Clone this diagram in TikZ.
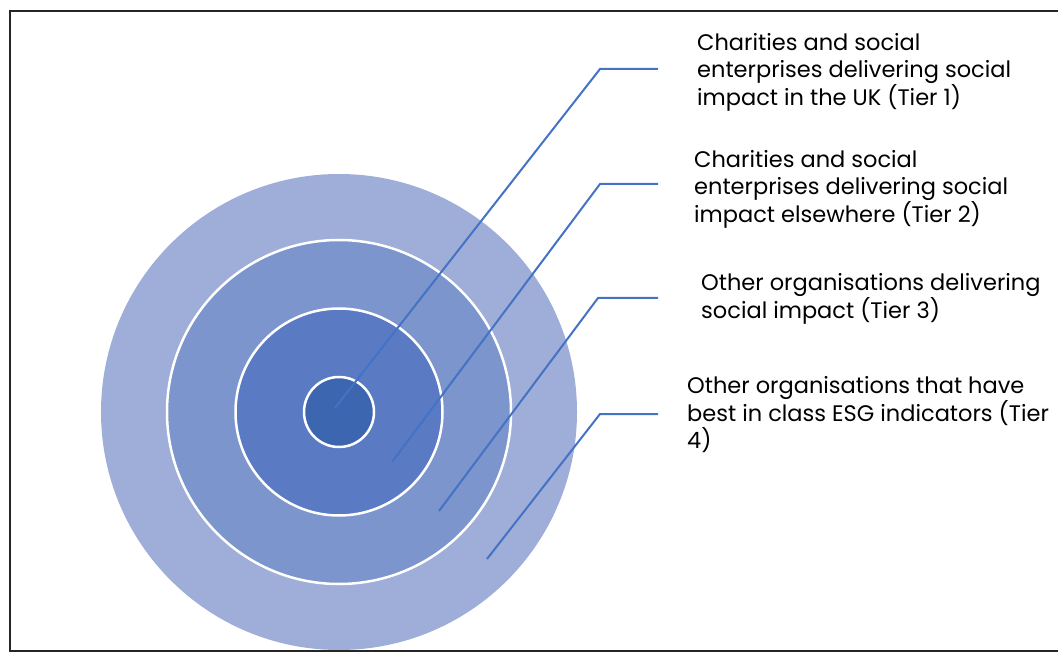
\documentclass[tikz,border=0pt]{standalone}
\usepackage{fontspec}
\setmainfont{Poppins}
\definecolor{ringA}{HTML}{9FAED8}
\definecolor{ringB}{HTML}{7C95CC}
\definecolor{ringC}{HTML}{5A7AC4}
\definecolor{ringD}{HTML}{3D66B0}
\definecolor{leader}{HTML}{4472C4}
\tikzset{
  ring/.style={circle, draw=white, line width=2.5pt, inner sep=0pt},
  leaderline/.style={draw=leader, line width=2pt},
  lbl/.style={anchor=north west, align=left, inner sep=0pt, font=\fontsize{22.5}{27}\selectfont, text=black}
}
\begin{document}
\begin{tikzpicture}[x=1pt,y=-1pt]
\useasboundingbox (0,0) rectangle (1058,652);
\draw[line width=2pt, draw=black!85] (10,11) rectangle (1070,651);
\node[circle, inner sep=0pt, fill=ringA, minimum size=476pt] (r4) at (339,412) {};
\node[ring, fill=ringB, minimum size=344pt] (r3) at (339,412) {};
\node[ring, fill=ringC, minimum size=207pt] (r2) at (339,412) {};
\node[ring, fill=ringD, minimum size=70pt] (r1) at (339,412) {};
\coordinate (s1) at (335,408);
\coordinate (k1) at (600,69);
\coordinate (e1) at (658,69);
\coordinate (s2) at (392,462);
\coordinate (k2) at (600,184);
\coordinate (e2) at (658,184);
\coordinate (s3) at (439,511);
\coordinate (k3) at (598,298);
\coordinate (e3) at (658,298);
\coordinate (s4) at (487,559);
\coordinate (k4) at (600,414);
\coordinate (e4) at (658,414);
\draw[leaderline] (s1) -- (k1) -- (e1);
\draw[leaderline] (s2) -- (k2) -- (e2);
\draw[leaderline] (s3) -- (k3) -- (e3);
\draw[leaderline] (s4) -- (k4) -- (e4);
\node[lbl] (t1) at (697,33) {Charities and social\\enterprises delivering social\\impact in the UK (Tier 1)};
\node[lbl] (t2) at (694,150) {Charities and social\\enterprises delivering social\\impact elsewhere (Tier 2)};
\node[lbl] (t3) at (701,273) {Other organisations delivering\\social impact (Tier 3)};
\node[lbl] (t4) at (687,376) {Other organisations that have\\best in class ESG indicators (Tier\\4)};
\end{tikzpicture}
\end{document}
